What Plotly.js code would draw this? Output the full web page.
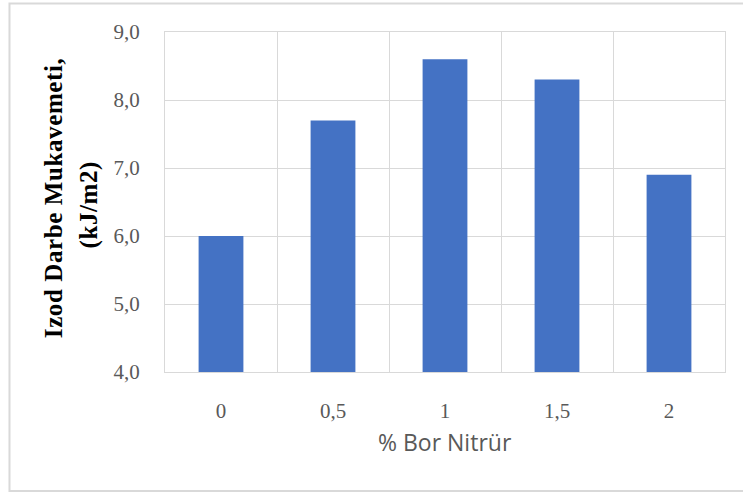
<!DOCTYPE html>
<html>
<head>
<meta charset="utf-8">
<script src="https://cdn.plot.ly/plotly-3.0.1.min.js"></script>
<style>
html,body{margin:0;padding:0;background:#fff;}
#chart{width:743px;height:493px;}
g.annotation[data-index="0"] text, g.annotation[data-index="1"] text {letter-spacing: 0.6px;}
</style>
</head>
<body>
<div id="chart"></div>
<script>
const categories = ["0", "0,5", "1", "1,5", "2"];
const values = [6.0, 7.7, 8.6, 8.3, 6.9];
const yTitleLine1 = "Izod Darbe Mukavemeti,";
const yTitleLine2 = "(kJ/m2)";
const xTitle = "% Bor Nitrür";

const trace = {
  type: "bar",
  x: categories,
  y: values,
  marker: {color: "#4472C4"},
  hoverinfo: "x+y"
};

const layout = {
  width: 743,
  height: 493,
  margin: {l: 165, r: 18, t: 32, b: 121},
  paper_bgcolor: "#ffffff",
  plot_bgcolor: "#ffffff",
  separators: ",.",
  bargap: 0.6,
  showlegend: false,
  xaxis: {
    type: "category",
    tickson: "boundaries",
    showgrid: true,
    gridcolor: "#d9d9d9",
    gridwidth: 1,
    showline: true,
    mirror: true,
    linecolor: "#d9d9d9",
    linewidth: 1,
    ticks: "",
    ticklabelstandoff: 20,
    tickfont: {family: "Liberation Serif, Times New Roman, serif", size: 21, color: "#595959"},
    zeroline: false
  },
  yaxis: {
    range: [4, 9],
    dtick: 1,
    tick0: 4,
    tickformat: ".1f",
    showgrid: true,
    gridcolor: "#d9d9d9",
    gridwidth: 1,
    showline: true,
    mirror: true,
    linecolor: "#d9d9d9",
    ticks: "",
    ticklabelstandoff: 20,
    tickfont: {family: "Liberation Serif, Times New Roman, serif", size: 21, color: "#595959"},
    zeroline: false
  },
  annotations: [
    {text: "<b>" + yTitleLine1 + "</b>", xref: "paper", yref: "paper", x: 0, y: 0.51,
     xanchor: "center", yanchor: "middle", xshift: -111, textangle: -90, showarrow: false,
     font: {family: "Liberation Serif, Times New Roman, serif", size: 25, color: "#000000"}},
    {text: "<b>" + yTitleLine2 + "</b>", xref: "paper", yref: "paper", x: 0, y: 0.49,
     xanchor: "center", yanchor: "middle", xshift: -76, textangle: -90, showarrow: false,
     font: {family: "Liberation Serif, Times New Roman, serif", size: 25, color: "#000000"}},
    {text: xTitle, xref: "paper", yref: "paper", x: 0.5, y: 0,
     xanchor: "center", yanchor: "middle", yshift: -70, showarrow: false,
     font: {family: "Open Sans, Liberation Sans, sans-serif", size: 23, color: "#595959"}}
  ],
  shapes: [
    {type: "rect", xref: "paper", yref: "paper", x0: -0.2777, x1: 1.1, y0: -0.35, y1: 1.0838,
     line: {color: "#d9d9d9", width: 2}, fillcolor: "rgba(0,0,0,0)", layer: "below"}
  ]
};

Plotly.newPlot("chart", [trace], layout, {displayModeBar: false, staticPlot: true});
</script>
</body>
</html>
